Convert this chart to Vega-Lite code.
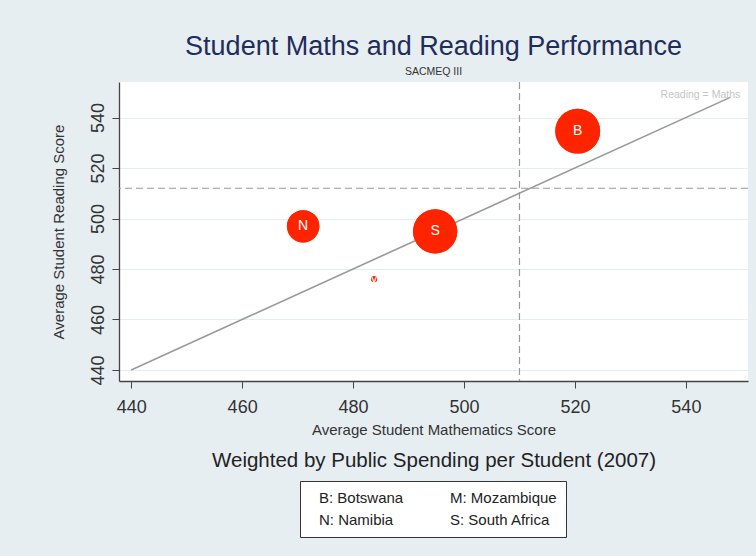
{
  "$schema": "https://vega.github.io/schema/vega-lite/v6.json",
  "width": 629,
  "height": 299,
  "autosize": {"type": "none"},
  "padding": {"left": 119, "top": 82, "right": 8, "bottom": 175},
  "background": "#e7eef2",
  "title": {
    "text": "Student Maths and Reading Performance",
    "subtitle": "SACMEQ III",
    "anchor": "middle",
    "frame": "group",
    "fontSize": 27,
    "fontWeight": "normal",
    "color": "#1f2d5a",
    "subtitleFontSize": 10.5,
    "subtitleColor": "#333333",
    "subtitlePadding": 6,
    "offset": 3
  },
  "config": {
    "font": "Liberation Sans",
    "view": {"fill": "white", "stroke": null},
    "axis": {
      "domainColor": "#444444",
      "domainWidth": 1.3,
      "tickColor": "#444444",
      "tickSize": 7,
      "labelColor": "#333333",
      "titleColor": "#333333",
      "labelFontSize": 18,
      "titleFontSize": 15,
      "titleFontWeight": "normal",
      "gridColor": "#e4eef0"
    }
  },
  "datasets": {
    "countries": [
      {"code": "B", "country": "B: Botswana", "math": 520.5, "read": 534.6, "weight": 100.5},
      {"code": "M", "country": "M: Mozambique", "math": 483.8, "read": 476.0, "weight": 2},
      {"code": "N", "country": "N: Namibia", "math": 471.0, "read": 496.9, "weight": 52.5},
      {"code": "S", "country": "S: South Africa", "math": 494.8, "read": 494.9, "weight": 98}
    ],
    "means": [{"math": 510, "read": 512}],
    "equality": [{"math": 440, "read": 440}, {"math": 548, "read": 548}],
    "equality_label": [{"math": 548, "read": 548, "label": "Reading = Maths"}]
  },
  "layer": [
    {
      "data": {"name": "countries"},
      "mark": {"type": "circle", "opacity": 1, "color": "#ff2400"},
      "encoding": {
        "x": {
          "field": "math", "type": "quantitative",
          "scale": {"domain": [437.8, 551.2], "nice": false, "zero": false},
          "axis": {"title": "Average Student Mathematics Score", "values": [440, 460, 480, 500, 520, 540], "grid": false, "labelPadding": 10, "titlePadding": 6}
        },
        "y": {
          "field": "read", "type": "quantitative",
          "scale": {"domain": [435.6, 554.1], "nice": false, "zero": false},
          "axis": {"title": "Average Student Reading Score", "values": [440, 460, 480, 500, 520, 540], "grid": true, "labelAngle": 270, "labelAlign": "center", "labelBaseline": "alphabetic", "labelPadding": 9, "titlePadding": 23}
        },
        "size": {
          "field": "weight", "type": "quantitative",
          "scale": {"domain": [0, 100], "range": [0, 2000]},
          "legend": {
            "title": "Weighted by Public Spending per Student (2007)",
            "orient": "none", "legendX": 93, "legendY": 369,
            "titleFontSize": 20.5, "titleFontWeight": "normal", "titleColor": "#222222",
            "titleLimit": 700,
            "titlePadding": 0, "padding": 0,
            "values": [50], "symbolOpacity": 0, "labelOpacity": 0
          }
        },
        "color": {
          "field": "country", "type": "nominal",
          "scale": {"domain": ["B: Botswana", "N: Namibia", "M: Mozambique", "S: South Africa"], "range": ["#ff2400"]},
          "legend": {
            "title": null, "orient": "none", "legendX": 181, "legendY": 399,
            "columns": 2, "columnPadding": 36, "rowPadding": 6, "padding": 9,
            "strokeColor": "#333333", "fillColor": "#ffffff",
            "labelFontSize": 15, "labelColor": "#222222", "labelOffset": -5,
            "symbolSize": 0, "symbolOpacity": 0, "symbolStrokeWidth": 0
          }
        }
      }
    },
    {
      "data": {"name": "means"},
      "mark": {"type": "rule", "color": "#999999", "strokeDash": [7, 4], "strokeWidth": 1.2},
      "encoding": {"x": {"field": "math", "type": "quantitative"}}
    },
    {
      "data": {"name": "means"},
      "mark": {"type": "rule", "color": "#999999", "strokeDash": [7, 4], "strokeWidth": 1.2},
      "encoding": {"y": {"field": "read", "type": "quantitative"}}
    },
    {
      "data": {"name": "equality"},
      "mark": {"type": "line", "color": "#999999", "strokeWidth": 1.6},
      "encoding": {
        "x": {"field": "math", "type": "quantitative"},
        "y": {"field": "read", "type": "quantitative"}
      }
    },
    {
      "data": {"name": "equality_label"},
      "mark": {"type": "text", "color": "#c4c4c4", "fontSize": 10.5, "align": "right", "baseline": "middle", "dx": 10, "dy": -2},
      "encoding": {
        "x": {"field": "math", "type": "quantitative"},
        "y": {"field": "read", "type": "quantitative"},
        "text": {"field": "label"}
      }
    },
    {
      "data": {"name": "countries"},
      "mark": {"type": "circle", "opacity": 1, "color": "#ff2400"},
      "encoding": {
        "x": {"field": "math", "type": "quantitative"},
        "y": {"field": "read", "type": "quantitative"},
        "size": {"field": "weight", "type": "quantitative"},
        "color": {"field": "country", "type": "nominal"}
      }
    },
    {
      "data": {"name": "countries"},
      "mark": {"type": "text", "color": "white", "fontSize": 14, "align": "center", "baseline": "middle"},
      "encoding": {
        "x": {"field": "math", "type": "quantitative"},
        "y": {"field": "read", "type": "quantitative"},
        "text": {"field": "code"}
      }
    }
  ]
}
